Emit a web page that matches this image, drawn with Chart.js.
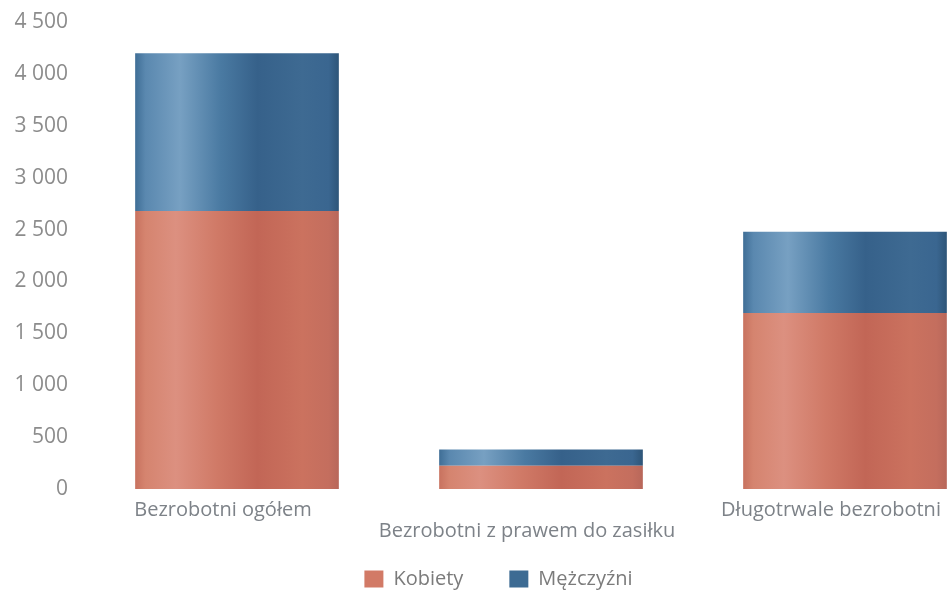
<!DOCTYPE html>
<html>
<head>
<meta charset="utf-8">
<script src="https://cdn.jsdelivr.net/npm/chart.js@4.4.1/dist/chart.umd.min.js"></script>
<style>
  html, body { margin: 0; padding: 0; background: #ffffff; overflow: hidden; }
  #wrap { position: relative; width: 1000px; height: 599px; }
</style>
</head>
<body>
<div id="wrap"><canvas id="c"></canvas></div>
<script>
const categories = ['Bezrobotni ogółem', ['', 'Bezrobotni z prawem do zasiłku'], 'Długotrwale bezrobotni'];
const seriesNames = ['Kobiety', 'Mężczyźni'];
const kobiety = [2680, 225, 1695];
const mezczyzni = [1520, 155, 785];
const yTicks = [0, 500, 1000, 1500, 2000, 2500, 3000, 3500, 4000, 4500];

const BAR_PCT = 0.67;
const palettes = {
  orange: [[0, '#c8725f'], [0.05, '#d5846f'], [0.2, '#dc9080'], [0.4, '#d07a67'], [0.6, '#c26656'], [0.82, '#cb725f'], [0.95, '#c46e5e'], [1, '#b8675a']],
  blue:   [[0, '#3f6e96'], [0.05, '#5a88af'], [0.22, '#77a0c2'], [0.42, '#4a7aa2'], [0.6, '#36618a'], [0.82, '#3e6a92'], [0.95, '#3a6690'], [1, '#2e5578']]
};
const solid = { orange: '#cf7865', blue: '#43719a' };

function barGradient(key) {
  return function(ctx) {
    const chart = ctx.chart;
    const xs = chart.scales.x;
    if (!chart.chartArea || !xs || ctx.dataIndex === undefined) return solid[key];
    const cx = xs.getPixelForValue(ctx.dataIndex);
    const w = xs.width / categories.length * BAR_PCT;
    const g = chart.ctx.createLinearGradient(cx - w / 2, 0, cx + w / 2, 0);
    palettes[key].forEach(s => g.addColorStop(s[0], s[1]));
    return g;
  };
}

function fmt(v) {
  return String(v).replace(/\B(?=(\d{3})+(?!\d))/g, ' ');
}

const FONT = "'Open Sans', 'Noto Sans', sans-serif";

// let the x-axis labels draw below the legend's layout box (no clipping of the staggered label)
const extendXAxisArea = {
  id: 'extendXAxisArea',
  afterLayout(chart) {
    const xs = chart.scales.x;
    if (xs) xs.bottom = xs.top + 70;
  }
};

new Chart(document.getElementById('c'), {
  type: 'bar',
  data: {
    labels: categories,
    datasets: [
      { label: seriesNames[0], data: kobiety, backgroundColor: barGradient('orange'), borderWidth: 0 },
      { label: seriesNames[1], data: mezczyzni, backgroundColor: barGradient('blue'), borderWidth: 0 }
    ]
  },
  plugins: [extendXAxisArea],
  options: {
    responsive: true,
    maintainAspectRatio: false,
    animation: false,
    datasets: { bar: { barPercentage: BAR_PCT, categoryPercentage: 1 } },
    layout: { padding: { top: 22, right: 3, left: 0, bottom: 0 } },
    plugins: {
      tooltip: { enabled: false },
      legend: {
        position: 'bottom',
        labels: {
          font: { family: FONT, size: 20 },
          color: '#7b7b7b',
          boxWidth: 19,
          boxHeight: 17,
          padding: 46,
          generateLabels(chart) {
            return chart.data.datasets.map((ds, i) => ({
              text: ds.label,
              fillStyle: i === 0 ? '#d27a66' : '#3d6b93',
              strokeStyle: 'rgba(0,0,0,0)',
              fontColor: '#7b7b7b',
              lineWidth: 0,
              hidden: false,
              datasetIndex: i
            }));
          }
        }
      }
    },
    scales: {
      x: {
        stacked: true,
        grid: { display: false, drawTicks: false },
        border: { display: false },
        ticks: {
          font: { family: FONT, size: 20, lineHeight: 1.05 },
          color: '#7d8288',
          padding: 11,
          labelOffset: -14,
          maxRotation: 0,
          autoSkip: false
        },
        afterFit(scale) { scale.height = 34; }
      },
      y: {
        stacked: true,
        min: 0,
        max: 4500,
        grid: { display: false, drawTicks: false },
        border: { display: false },
        afterBuildTicks(scale) { scale.ticks = yTicks.map(v => ({ value: v })); },
        ticks: {
          font: { family: FONT, size: 21 },
          color: '#8c8c8c',
          padding: 17,
          callback: (v) => fmt(v)
        },
        afterFit(scale) {
          scale.width = 85;
          scale.paddingTop = 0;
          scale.paddingBottom = 0;
        }
      }
    }
  }
});
</script>
</body>
</html>
